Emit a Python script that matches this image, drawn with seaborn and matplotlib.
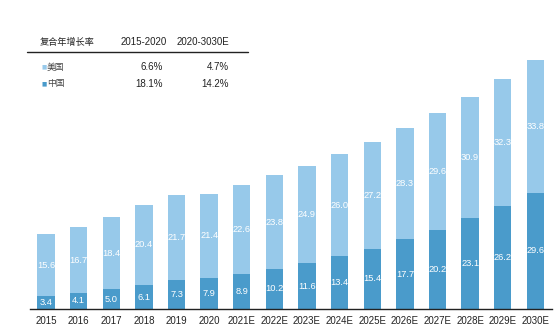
import matplotlib
matplotlib.use("Agg")
import matplotlib.pyplot as plt
import seaborn as sns
import pandas as pd
import numpy as np

years = ["2015", "2016", "2017", "2018", "2019", "2020", "2021E", "2022E", "2023E",
         "2024E", "2025E", "2026E", "2027E", "2028E", "2029E", "2030E"]
china = [3.4, 4.1, 5.0, 6.1, 7.3, 7.9, 8.9, 10.2, 11.6, 13.4, 15.4, 17.7, 20.2, 23.1, 26.2, 29.6]
usa = [15.6, 16.7, 18.4, 20.4, 21.7, 21.4, 22.6, 23.8, 24.9, 26.0, 27.2, 28.3, 29.6, 30.9, 32.3, 33.8]

cagr_header = ["复合年增长率", "2015-2020", "2020-3030E"]
cagr_rows = [("美国", "6.6%", "4.7%"), ("中国", "18.1%", "14.2%")]

light = "#97C9EA"
dark = "#4A9BCB"

sns.set_theme(style="white")
plt.rcParams["font.family"] = ["Liberation Sans Narrow", "Liberation Sans", "Noto Sans CJK SC", "DejaVu Sans"]

df = pd.DataFrame({"year": years, "china": china, "usa": usa})
df["total"] = df["china"] + df["usa"]

fig = plt.figure(figsize=(5.6, 3.29), dpi=100)
ax = fig.add_axes([30 / 560, 20 / 329, 522 / 560, 269 / 329])

sns.barplot(data=df, x="year", y="total", color=light, saturation=1, width=0.53,
            linewidth=0, ax=ax)
sns.barplot(data=df, x="year", y="china", color=dark, saturation=1, width=0.53,
            linewidth=0, ax=ax)

for i, (c, u) in enumerate(zip(china, usa)):
    ax.text(i, c / 2, f"{c:.1f}", ha="center", va="center", color="white", fontsize=6.7)
    ax.text(i, c + u / 2, f"{u:.1f}", ha="center", va="center", color="white", fontsize=6.7)

ax.set_xlim(-0.49, 15.51)
ax.set_ylim(0, 68.5)
ax.set_xlabel("")
ax.set_ylabel("")
ax.set_yticks([])
for s in ["top", "right", "left"]:
    ax.spines[s].set_visible(False)
ax.spines["bottom"].set_color("#222222")
ax.spines["bottom"].set_linewidth(1.0)
ax.tick_params(axis="x", length=0, pad=5, labelsize=7, colors="#222222")

# CAGR table
def fy(py):
    return 1 - py / 329

def fx(px):
    return px / 560

fig.text(fx(40), fy(42), cagr_header[0], ha="left", va="center", fontsize=6.6, color="#222222")
fig.text(fx(121), fy(42), cagr_header[1], ha="left", va="center", fontsize=7, color="#222222")
fig.text(fx(177), fy(42), cagr_header[2], ha="left", va="center", fontsize=7, color="#222222")
fig.add_artist(plt.Line2D([fx(27), fx(248)], [fy(51.5), fy(51.5)], color="#222222", lw=1.0))
row_y = [67, 84]
row_col = [light, dark]
for (name, a, b), yy, col in zip(cagr_rows, row_y, row_col):
    fig.text(fx(41), fy(yy), "■", ha="left", va="center", fontsize=4, color=col,
             family=["DejaVu Sans"])
    fig.text(fx(47), fy(yy), name, ha="left", va="center", fontsize=6.3, color="#444444")
    fig.text(fx(163), fy(yy), a, ha="right", va="center", fontsize=7, color="#222222")
    fig.text(fx(229), fy(yy), b, ha="right", va="center", fontsize=7, color="#222222")

fig.savefig("out.png", dpi=100)
